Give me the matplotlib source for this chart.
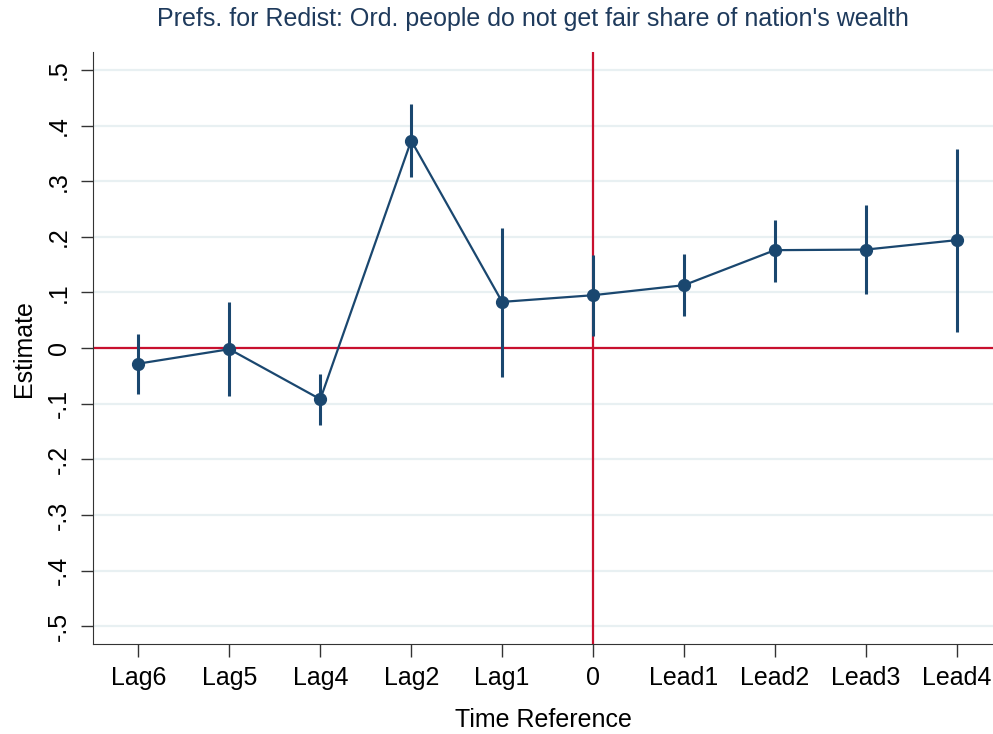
#!/usr/bin/env python3
import matplotlib
matplotlib.use("Agg")
import matplotlib.pyplot as plt
import numpy as np

# values
periods = ["Lag6", "Lag5", "Lag4", "Lag2", "Lag1", "0", "Lead1", "Lead2", "Lead3", "Lead4"]
estimate = [-0.028, -0.002, -0.092, 0.373, 0.083, 0.095, 0.113, 0.176, 0.177, 0.194]
ci_low = [-0.082, -0.086, -0.139, 0.307, -0.052, 0.022, 0.058, 0.119, 0.097, 0.029]
ci_high = [0.026, 0.082, -0.046, 0.439, 0.215, 0.167, 0.169, 0.230, 0.257, 0.358]
yticks = [-0.5, -0.4, -0.3, -0.2, -0.1, 0, 0.1, 0.2, 0.3, 0.4, 0.5]
ytick_labels = ["-.5", "-.4", "-.3", "-.2", "-.1", "0", ".1", ".2", ".3", ".4", ".5"]

navy = "#1a476f"
red = "#c8102e"

plt.rcParams['font.family'] = ['Liberation Sans', 'DejaVu Sans']

fig = plt.figure(figsize=(9.93, 7.34), dpi=100)
ax = fig.add_axes([0.0937, 0.1226, 0.9063, 0.8064])

x = np.arange(len(periods))

for v in yticks:
	ax.axhline(v, color="#e8f0f2", lw=1.6, zorder=0)

ax.axhline(0, color=red, lw=1.6, zorder=1)
ax.axvline(5, color=red, lw=1.6, zorder=1)

ax.vlines(x, ci_low, ci_high, color=navy, lw=2.2, zorder=3)
ax.plot(x, estimate, color=navy, lw=1.6, marker="o", markersize=8.5, zorder=4)

ax.set_xlim(-0.5, 9.4)
ax.set_ylim(-0.532, 0.532)
ax.set_xticks(x)
ax.set_xticklabels(periods, fontsize=18)
ax.set_yticks(yticks)
ax.set_yticklabels(ytick_labels, fontsize=18, rotation=90, va="center")

ax.spines['top'].set_visible(False)
ax.spines['right'].set_visible(False)
ax.spines['left'].set_color("#333333")
ax.spines['bottom'].set_color("#333333")
ax.tick_params(axis='both', direction='out', length=9, width=1, color="#333333", pad=7)

ax.set_xlabel("Time Reference", fontsize=18, labelpad=13)
ax.set_ylabel("Estimate", fontsize=18, labelpad=8)
fig.text(0.537, 0.974, "Prefs. for Redist: Ord. people do not get fair share of nation's wealth",
	ha="center", va="center", fontsize=18, color="#1e3a5c")

plt.savefig("out.png", dpi=100)
